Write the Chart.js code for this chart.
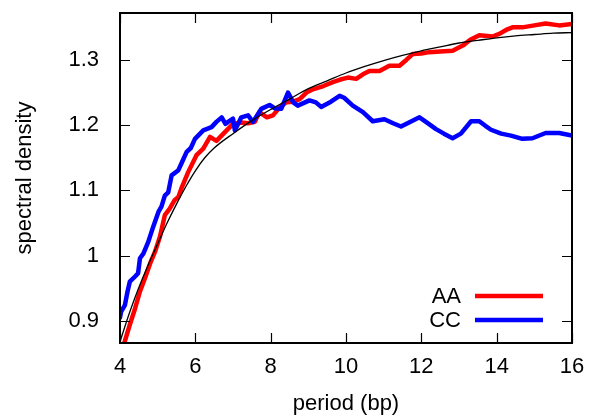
<!DOCTYPE html>
<html>
<head>
<meta charset="utf-8">
<script src="https://cdn.jsdelivr.net/npm/chart.js@4.4.1/dist/chart.umd.min.js"></script>
<style>
  html, body { margin: 0; padding: 0; background: #fff; }
</style>
</head>
<body>
<canvas id="spectrum" width="592" height="418"></canvas>
<script>
// period (bp) / spectral density
const aaPeriod = [4.00, 4.13, 4.26, 4.40, 4.53, 4.66, 4.80, 4.93, 5.06, 5.19, 5.32, 5.45, 5.55, 5.63, 5.81,
  6.03, 6.21, 6.39, 6.56, 6.78, 7.00, 7.22, 7.40, 7.58, 7.70, 7.90, 8.06, 8.25, 8.41, 8.60, 8.77, 8.95,
  9.12, 9.40, 9.65, 9.85, 10.05, 10.27, 10.45, 10.62, 10.89, 11.15, 11.42, 11.60, 11.77, 12.00, 12.21,
  12.50, 12.83, 13.10, 13.30, 13.54, 13.89, 14.07, 14.25, 14.42, 14.68, 15.00, 15.30, 15.66, 16.00];
const aaDensity = [0.845, 0.869, 0.894, 0.919, 0.945, 0.965, 0.988, 1.006, 1.029, 1.062, 1.072, 1.085, 1.090, 1.103, 1.128,
  1.154, 1.164, 1.182, 1.176, 1.189, 1.202, 1.204, 1.203, 1.205, 1.220, 1.212, 1.215, 1.228, 1.235, 1.236, 1.240, 1.250,
  1.255, 1.260, 1.266, 1.270, 1.273, 1.271, 1.278, 1.283, 1.283, 1.291, 1.291, 1.300, 1.309, 1.310, 1.312,
  1.313, 1.314, 1.322, 1.331, 1.338, 1.336, 1.340, 1.346, 1.350, 1.350, 1.353, 1.356, 1.353, 1.355];

const ccPeriod = [4.00, 4.03, 4.13, 4.20, 4.26, 4.40, 4.48, 4.53, 4.62, 4.75, 4.88, 5.02, 5.10, 5.19, 5.28, 5.37,
  5.55, 5.66, 5.77, 5.88, 5.99, 6.21, 6.43, 6.56, 6.70, 6.80, 6.87, 7.00, 7.05, 7.22, 7.40, 7.53, 7.75,
  7.97, 8.10, 8.28, 8.46, 8.60, 8.72, 9.03, 9.20, 9.34, 9.60, 9.83, 9.95, 10.18, 10.45, 10.71, 11.02,
  11.25, 11.46, 11.70, 11.95, 12.15, 12.39, 12.60, 12.83, 13.05, 13.32, 13.54, 13.70, 13.85, 14.12,
  14.38, 14.68, 14.95, 15.30, 15.66, 16.00];
const ccDensity = [0.905, 0.914, 0.924, 0.945, 0.960, 0.968, 0.973, 0.996, 1.003, 1.021, 1.044, 1.067, 1.075, 1.092, 1.097, 1.123,
  1.131, 1.145, 1.159, 1.165, 1.179, 1.192, 1.197, 1.205, 1.212, 1.202, 1.205, 1.210, 1.192, 1.212, 1.215, 1.205, 1.225,
  1.231, 1.226, 1.225, 1.250, 1.235, 1.230, 1.238, 1.235, 1.228, 1.236, 1.245, 1.242, 1.230, 1.220, 1.206, 1.209,
  1.203, 1.198, 1.205, 1.212, 1.204, 1.194, 1.187, 1.180, 1.187, 1.206, 1.206, 1.199, 1.193, 1.187,
  1.184, 1.179, 1.180, 1.188, 1.188, 1.184];

// thin black reference curve
const fitPeriod = [4.0, 4.25, 4.5, 4.75, 5.0, 5.25, 5.5, 5.75, 6.0, 6.25, 6.5, 7.0, 7.5, 8.0, 8.5, 9.0, 9.5,
  10.0, 10.5, 11.0, 11.5, 12.0, 12.5, 13.0, 13.5, 14.0, 14.5, 15.0, 15.5, 16.0];
const fitDensity = [0.868, 0.912, 0.951, 0.986, 1.018, 1.050, 1.079, 1.106, 1.130, 1.150, 1.165, 1.187, 1.207, 1.224, 1.240, 1.256, 1.268,
  1.280, 1.290, 1.299, 1.307, 1.314, 1.320, 1.326, 1.330, 1.334, 1.337, 1.339, 1.341, 1.342];

const xTicks = [4, 6, 8, 10, 12, 14, 16];
const yTicks = [0.9, 1, 1.1, 1.2, 1.3];

const toPoints = (xs, ys) => xs.map((x, i) => ({ x: x, y: ys[i] }));

const labelFont = { family: "'Liberation Sans', Arial, sans-serif", size: 22 };

// no extra room for edge labels, the layout padding decides the plot box
const noEdgePadding = scale => {
  scale.paddingTop = 0;
  scale.paddingBottom = 0;
  scale.paddingLeft = 0;
  scale.paddingRight = 0;
};

// gnuplot style frame, inward ticks on all four sides, and key inside the plot
const framePlugin = {
  id: "frame",
  afterDraw(chart) {
    const { ctx, chartArea: area } = chart;
    const xs = chart.scales.x;
    const ys = chart.scales.y;
    const tick = 10;

    ctx.save();
    ctx.strokeStyle = "#000";
    ctx.lineWidth = 1.2;
    ctx.beginPath();
    xTicks.forEach(v => {
      const px = Math.round(xs.getPixelForValue(v)) + 0.5;
      ctx.moveTo(px, area.bottom);
      ctx.lineTo(px, area.bottom - tick);
      ctx.moveTo(px, area.top);
      ctx.lineTo(px, area.top + tick);
    });
    yTicks.forEach(v => {
      const py = Math.round(ys.getPixelForValue(v)) + 0.5;
      ctx.moveTo(area.left, py);
      ctx.lineTo(area.left + tick, py);
      ctx.moveTo(area.right, py);
      ctx.lineTo(area.right - tick, py);
    });
    ctx.stroke();

    ctx.lineWidth = 2;
    ctx.strokeRect(area.left, area.top, area.right - area.left, area.bottom - area.top);

    // key
    ctx.font = "22px 'Liberation Sans', Arial, sans-serif";
    ctx.fillStyle = "#000";
    ctx.textAlign = "right";
    ctx.textBaseline = "middle";
    let rowY = 296;
    chart.data.datasets.filter(d => d.label).forEach(d => {
      ctx.fillText(d.label, 461, rowY + 1);
      ctx.strokeStyle = d.borderColor;
      ctx.lineWidth = d.borderWidth;
      ctx.beginPath();
      ctx.moveTo(475, rowY);
      ctx.lineTo(543, rowY);
      ctx.stroke();
      rowY += 24;
    });
    ctx.restore();
  }
};

new Chart(document.getElementById("spectrum"), {
  type: "scatter",
  data: {
    datasets: [
      {
        label: "AA",
        data: toPoints(aaPeriod, aaDensity),
        borderColor: "#ff0000",
        borderWidth: 4.5,
        order: 2
      },
      {
        label: "CC",
        data: toPoints(ccPeriod, ccDensity),
        borderColor: "#0000ff",
        borderWidth: 4.5,
        order: 1
      },
      {
        label: "",
        data: toPoints(fitPeriod, fitDensity),
        borderColor: "#000000",
        borderWidth: 1.3,
        cubicInterpolationMode: "monotone",
        order: 0
      }
    ]
  },
  options: {
    responsive: false,
    animation: false,
    showLine: true,
    elements: {
      point: { radius: 0, hoverRadius: 0 },
      line: { borderJoinStyle: "round", borderCapStyle: "round" }
    },
    layout: { padding: { top: 13, right: 20, left: 0, bottom: 0 } },
    plugins: {
      legend: { display: false },
      tooltip: { enabled: false }
    },
    scales: {
      x: {
        type: "linear",
        min: 4,
        max: 16,
        grid: { display: false },
        border: { display: false },
        afterBuildTicks: scale => { scale.ticks = xTicks.map(v => ({ value: v })); },
        afterFit: scale => { scale.height = 75; noEdgePadding(scale); },
        ticks: { padding: 3, color: "#000", font: labelFont, maxRotation: 0 },
        title: {
          display: true,
          text: "period (bp)",
          color: "#000",
          font: labelFont,
          padding: { top: 0, bottom: 1 }
        }
      },
      y: {
        type: "linear",
        min: 0.866,
        max: 1.372,
        grid: { display: false },
        border: { display: false },
        afterBuildTicks: scale => { scale.ticks = yTicks.map(v => ({ value: v })); },
        afterFit: scale => { scale.width = 120; noEdgePadding(scale); },
        ticks: { padding: 13, color: "#000", font: labelFont, callback: v => String(v) },
        title: {
          display: true,
          text: "spectral density",
          color: "#000",
          font: labelFont,
          padding: { top: 12, bottom: 0 }
        }
      }
    }
  },
  plugins: [framePlugin]
});
</script>
</body>
</html>
